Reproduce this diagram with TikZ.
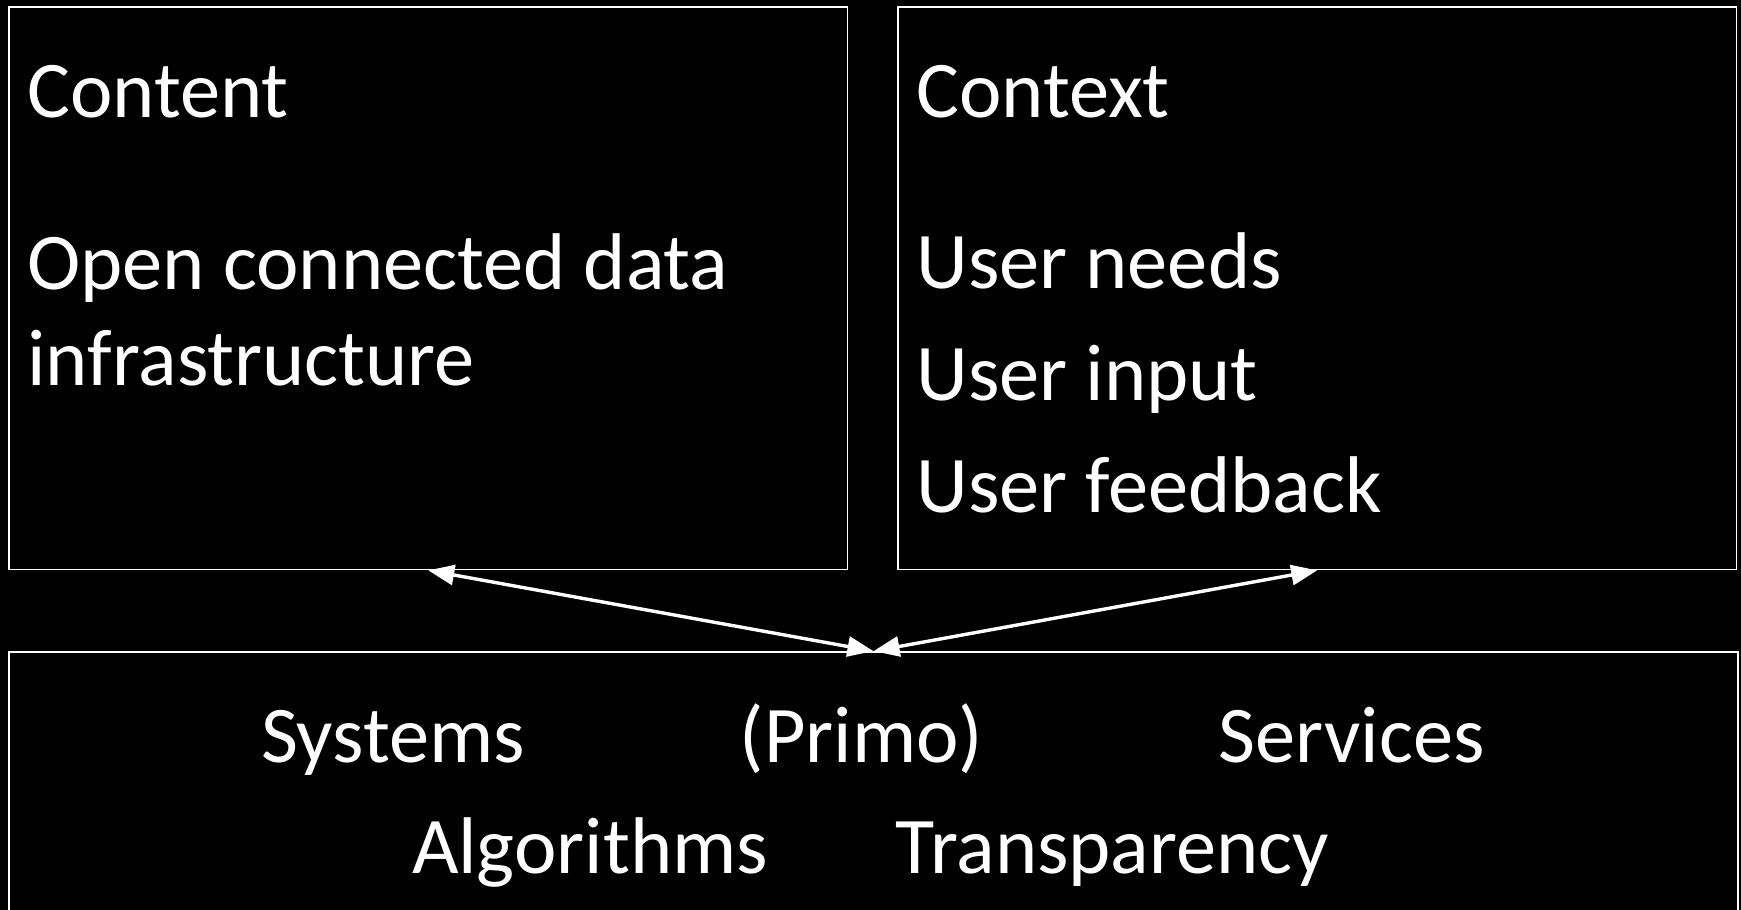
\documentclass[tikz,border=0pt]{standalone}
\usepackage{fontspec}
\setmainfont{Carlito}
\usetikzlibrary{arrows.meta,fit}
\begin{document}
\begin{tikzpicture}[x=0.5pt,y=-0.5pt,
  boxstyle/.style={draw=white, line width=0.85pt, inner sep=0pt},
  txt/.style={text=white, inner sep=0pt, anchor=base west, font=\fontsize{40.2}{48}\selectfont},
  ctxt/.style={txt, anchor=base},
  link/.style={draw=white, line width=1.7pt, {Triangle[length=13pt,width=10pt]}-{Triangle[length=13pt,width=10pt]}}]
\fill[black] (0,0) rectangle (1741,910);
\useasboundingbox (0,0) rectangle (1741,910);
% box corners
\coordinate (c1) at (9,7);
\coordinate (c2) at (847.5,569.5);
\coordinate (x1) at (898,7);
\coordinate (x2) at (1736.5,569.5);
\coordinate (b1) at (9,652);
\coordinate (b2) at (1738,925);
\node[boxstyle, fit=(c1)(c2)] (content) {};
\node[boxstyle, fit=(x1)(x2)] (context) {};
\node[boxstyle, fit=(b1)(b2)] (systems) {};
% texts
\node[txt] (t1) at (27,117) {Content};
\node[txt] (t2) at (27,289) {Open connected data};
\node[txt] (t3) at (27,385) {infrastructure};
\node[txt] (u0) at (916,117) {Context};
\node[txt] (u1) at (916,288) {User needs};
\node[txt] (u2) at (916,400) {User input};
\node[txt] (u3) at (916,512) {User feedback};
\node[ctxt] (s1) at (393,762) {Systems};
\node[ctxt] (s2) at (861.5,762) {(Primo)};
\node[ctxt] (s3) at (1351.5,762) {Services};
\node[ctxt] (s4) at (590,873) {Algorithms};
\node[ctxt] (s5) at (1112.5,873) {Transparency};
% connectors
\draw[link] (content.south) -- (systems.north);
\draw[link] (context.south) -- (systems.north);
\end{tikzpicture}
\end{document}
